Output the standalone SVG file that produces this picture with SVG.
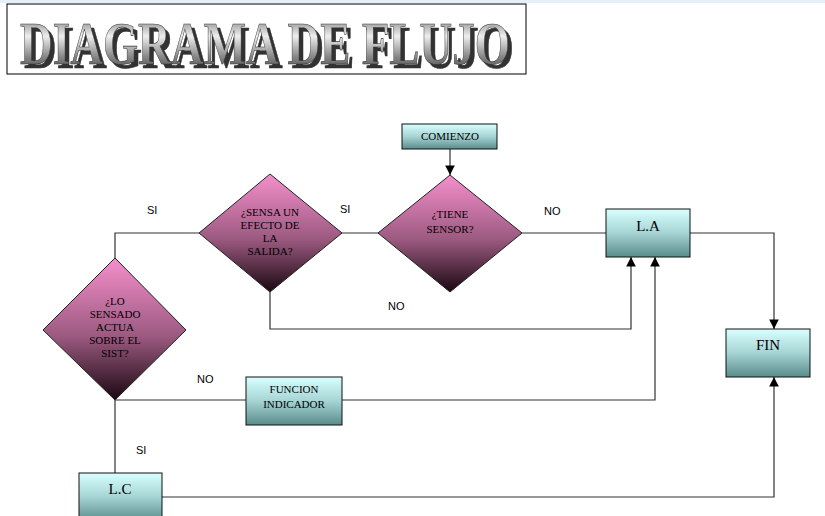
<svg xmlns="http://www.w3.org/2000/svg" width="825" height="516" viewBox="0 0 825 516">
<defs>
<linearGradient id="pink" x1="0" y1="0" x2="0" y2="1"><stop offset="0" stop-color="#f58fcc"/><stop offset="0.55" stop-color="#9c5a80"/><stop offset="1" stop-color="#1a0812"/></linearGradient>
<linearGradient id="teal" x1="0" y1="0" x2="0" y2="1"><stop offset="0" stop-color="#d8ffff"/><stop offset="0.5" stop-color="#a6d4d4"/><stop offset="1" stop-color="#5a8c8c"/></linearGradient>
<linearGradient id="metal" x1="0" y1="0" x2="0" y2="1"><stop offset="0" stop-color="#555"/><stop offset="0.4" stop-color="#eee"/><stop offset="0.7" stop-color="#888"/><stop offset="1" stop-color="#333"/></linearGradient>
<filter id="sh" x="-5%" y="-20%" width="110%" height="140%"><feOffset in="SourceAlpha" dx="4" dy="4" result="o"/><feFlood flood-color="#333"/><feComposite in2="o" operator="in" result="s"/><feMerge><feMergeNode in="s"/><feMergeNode in="SourceGraphic"/></feMerge></filter>
<marker id="ar" viewBox="0 0 10 10" refX="10" refY="5" markerWidth="8" markerHeight="8" orient="auto"><path d="M0,0 L10,5 L0,10 z" fill="#000"/></marker>
</defs>
<style>
.d{fill:url(#pink);stroke:#222;stroke-width:1}
.b{fill:url(#teal);stroke:#111;stroke-width:1}
.t{font-family:"Liberation Serif","Times New Roman","DejaVu Serif",serif;font-size:11px;fill:#000;text-anchor:middle}
.bt{font-family:"Liberation Serif","Times New Roman","DejaVu Serif",serif;font-size:15px;fill:#000;text-anchor:middle}
.l{font-family:"Liberation Sans",Arial,sans-serif;font-size:11px;fill:#000}
.c{fill:none;stroke:#333;stroke-width:1.2}
</style>
<rect width="825" height="516" fill="#fff"/>
<rect x="0" y="0" width="825" height="3" fill="#e8eef8"/>
<g id="title">
<rect x="7" y="4" width="519" height="70" fill="#fff" stroke="#000"/>
<text x="20" y="64" font-family="'Liberation Serif','Times New Roman','DejaVu Serif',serif" font-weight="bold" font-size="62" textLength="490" lengthAdjust="spacingAndGlyphs" fill="url(#metal)" stroke="#333" stroke-width="0.6" filter="url(#sh)">DIAGRAMA DE FLUJO</text>
</g>
<g id="connectors">
<path class="c" d="M450,149 V175" marker-end="url(#ar)"/>
<path class="c" d="M522,233 H606"/>
<path class="c" d="M690,233 H774 V329" marker-end="url(#ar)"/>
<path class="c" d="M378,233 H342"/>
<path class="c" d="M199,233 H115 V258"/>
<path class="c" d="M270,292 V329 H631 V257" marker-end="url(#ar)"/>
<path class="c" d="M115,400 H246"/>
<path class="c" d="M342,400 H655 V257" marker-end="url(#ar)"/>
<path class="c" d="M115,400 V473"/>
<path class="c" d="M162,497 H774 V377" marker-end="url(#ar)"/>
<text class="l" x="147" y="214">SI</text>
<text class="l" x="340" y="213">SI</text>
<text class="l" x="544" y="215">NO</text>
<text class="l" x="388" y="310">NO</text>
<text class="l" x="197" y="383">NO</text>
<text class="l" x="136" y="454">SI</text>
</g>
<g id="comienzo"><rect class="b" x="402" y="124" width="95" height="25"/><text class="t" x="450" y="140">COMIENZO</text></g>
<g id="tiene"><polygon class="d" points="450,175 522,233 450,292 378,233"/><text class="t" x="450" y="218">¿TIENE</text><text class="t" x="450" y="233">SENSOR?</text></g>
<g id="sensa"><polygon class="d" points="270,174 342,233 270,292 199,233"/><text class="t" x="270" y="216">¿SENSA UN</text><text class="t" x="270" y="229">EFECTO DE</text><text class="t" x="270" y="242">LA</text><text class="t" x="270" y="255">SALIDA?</text></g>
<g id="lo"><polygon class="d" points="115,258 186,330 115,400 43,330"/><text class="t" x="115" y="305">¿LO</text><text class="t" x="115" y="318">SENSADO</text><text class="t" x="115" y="331">ACTUA</text><text class="t" x="115" y="344">SOBRE EL</text><text class="t" x="115" y="357">SIST?</text></g>
<g id="la"><rect class="b" x="606" y="209" width="84" height="48"/><text class="bt" x="648" y="231">L.A</text></g>
<g id="fin"><rect class="b" x="726" y="329" width="84" height="48"/><text class="bt" x="768" y="350">FIN</text></g>
<g id="funcion"><rect class="b" x="246" y="377" width="96" height="48"/><text class="t" x="294" y="393">FUNCION</text><text class="t" x="294" y="408">INDICADOR</text></g>
<g id="lc"><rect class="b" x="79" y="473" width="83" height="48"/><text class="bt" x="120" y="494">L.C</text></g>
</svg>
